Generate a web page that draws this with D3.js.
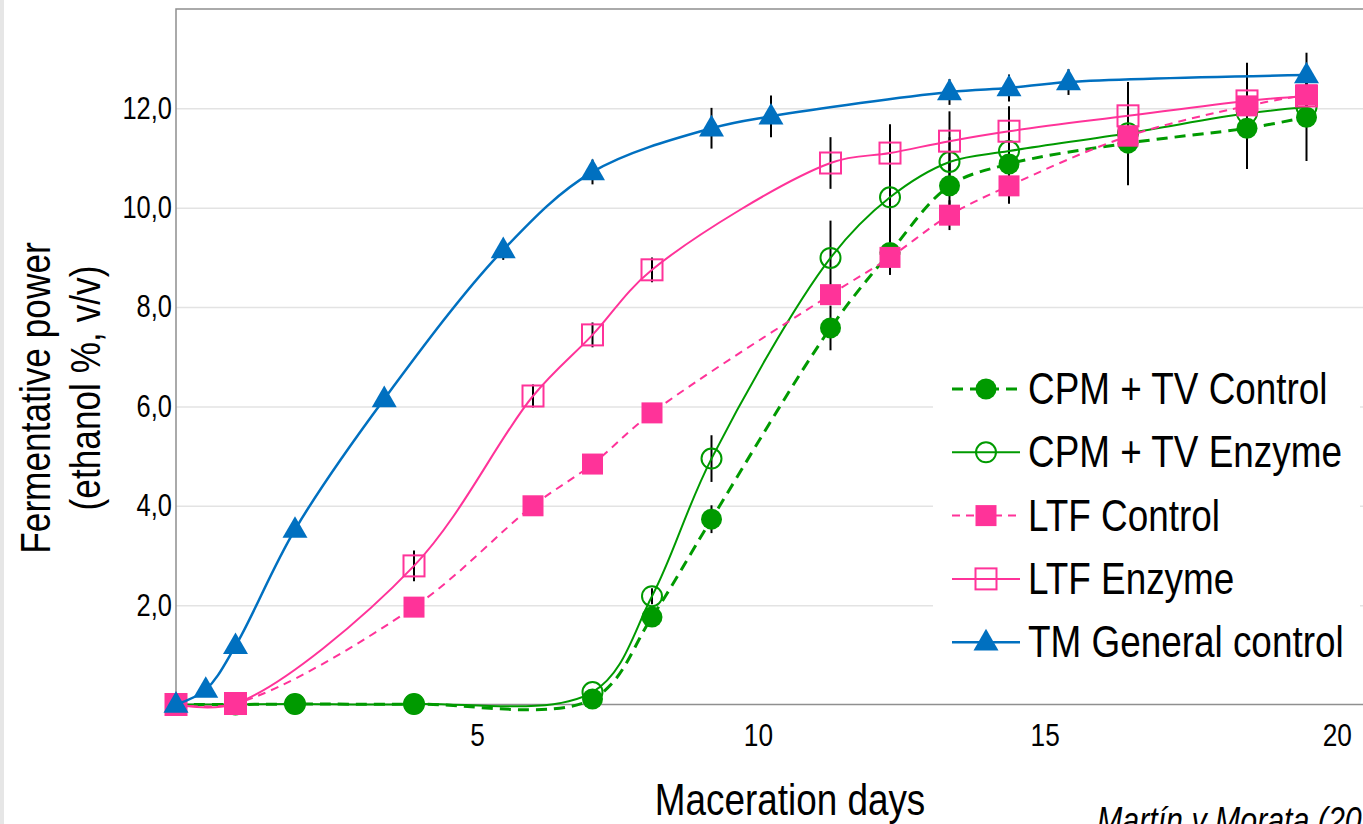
<!DOCTYPE html>
<html>
<head>
<meta charset="utf-8">
<script src="https://cdn.jsdelivr.net/npm/d3@7/dist/d3.min.js"></script>
<style>
  html, body { margin: 0; padding: 0; background: #e8e8e8; overflow: hidden; }
  svg { display: block; }
  text { font-family: "Liberation Sans", Arial, sans-serif; fill: #000; }
</style>
</head>
<body>
<svg id="chart" width="1363" height="824"></svg>
<script>
// values (ethanol %, v/v per maceration day)
var tmDays = [0, 0.5, 1, 2, 3.5, 5.5, 7, 9, 10, 13, 14, 15, 19];
var tmControl = [0, 0.3, 1.18, 3.52, 6.15, 9.15, 10.72, 11.6, 11.84, 12.33, 12.41, 12.53, 12.67];
var tmControlErr = [0, 0, 0, 0, 0, 0.2, 0.25, 0.41, 0.42, 0.26, 0.27, 0.26, 0.45];

var ltfDays = [0, 1, 4, 6, 7, 8, 11, 12, 13, 14, 16, 18, 19];
var ltfControl = [0, 0.02, 1.96, 4.0, 4.84, 5.87, 8.25, 9.0, 9.85, 10.44, 11.44, 12.05, 12.27];
var ltfControlErr = [0, 0, 0, 0, 0, 0, 0.1, 0.35, 0.3, 0.36, 0.3, 0.3, 0.3];
var ltfEnzyme = [0, 0.02, 2.79, 6.21, 7.44, 8.75, 10.9, 11.1, 11.34, 11.54, 11.85, 12.15, 12.25];
var ltfEnzymeErr = [0, 0, 0.31, 0.23, 0.25, 0.25, 0.52, 0.58, 0.6, 0.5, 0.68, 0.77, 0.3];

var cpmDays = [0, 1, 2, 4, 7, 8, 9, 11, 12, 13, 14, 16, 18, 19];
var cpmControl = [0, 0, 0.01, 0.01, 0.11, 1.76, 3.73, 7.58, 9.1, 10.44, 10.88, 11.3, 11.6, 11.82];
var cpmControlErr = [0, 0, 0, 0, 0, 0, 0.28, 0.45, 0.45, 0.5, 0.5, 0.85, 0.82, 0.88];
var cpmEnzyme = [0, 0, 0.01, 0.01, 0.25, 2.18, 4.95, 8.99, 10.21, 10.92, 11.14, 11.5, 11.9, 12.02];
var cpmEnzymeErr = [0, 0, 0, 0, 0, 0.16, 0.47, 0.75, 0.8, 0.5, 0.5, 0.3, 0.3, 0.3];

var yTicks = [2, 4, 6, 8, 10, 12];
// the day labels sit slightly off the data grid in the original
var xTickValues = [5.06, 9.78, 14.6, 19.51];
var xTickLabels = ["5", "10", "15", "20"];

var seriesNames = ["CPM + TV Control", "CPM + TV Enzyme", "LTF Control", "LTF Enzyme", "TM General control"];

var W = 1363, H = 824;
var plotLeft = 176, plotTop = 9, plotBottom = 704.5;
// the original uses a condensed face; squeeze the installed sans to match
var NARROW = 0.82;

var green = "#009a00", pink = "#ff3399", blue = "#0070c0";

var series = [
  { name: seriesNames[1], days: cpmDays, values: cpmEnzyme, errors: cpmEnzymeErr, color: green, width: 2, dash: null, shape: "circle", filled: false },
  { name: seriesNames[0], days: cpmDays, values: cpmControl, errors: cpmControlErr, color: green, width: 3, dash: "11,7", shape: "circle", filled: true },
  { name: seriesNames[3], days: ltfDays, values: ltfEnzyme, errors: ltfEnzymeErr, color: pink, width: 2, dash: null, shape: "square", filled: false },
  { name: seriesNames[2], days: ltfDays, values: ltfControl, errors: ltfControlErr, color: pink, width: 2, dash: "8,6", shape: "square", filled: true },
  { name: seriesNames[4], days: tmDays, values: tmControl, errors: tmControlErr, color: blue, width: 2.5, dash: null, shape: "triangle", filled: true }
];

var x = d3.scaleLinear().domain([0, 20]).range([plotLeft, plotLeft + 20 * 59.5]);
var y = d3.scaleLinear().domain([0, 14]).range([plotBottom, plotTop]);

var locale = d3.formatLocale({ decimal: ",", thousands: ".", grouping: [3], currency: ["", "€"] });
var yFormat = locale.format(".1f");

var svg = d3.select("#chart");

function label(parent, tx, ty, rotate, size, str) {
  return parent
    .append("text")
    .attr("transform", "translate(" + tx + "," + ty + ")" + (rotate ? " rotate(" + rotate + ")" : "") + " scale(" + NARROW + ",1)")
    .style("font-size", size + "px")
    .text(str);
}

// page card
svg.append("rect").attr("width", W).attr("height", H).attr("fill", "#e6e6e6");
svg.append("rect")
  .attr("x", 4)
  .attr("y", -14)
  .attr("width", W + 20)
  .attr("height", H + 40)
  .attr("rx", 10)
  .attr("fill", "#fff");

// grid
var grid = svg
  .append("g")
  .attr("transform", "translate(" + plotLeft + ",0)")
  .call(d3.axisLeft(y).tickValues(yTicks).tickSize(-(W - plotLeft)).tickFormat(""));
grid.select(".domain").remove();
grid.selectAll("line").attr("stroke", "#e3e3e3").attr("stroke-width", 1.5);

// frame
svg
  .append("path")
  .attr("d", "M" + W + "," + plotTop + "H" + plotLeft + "V" + plotBottom + "H" + W)
  .attr("fill", "none")
  .attr("stroke", "#8f8f8f")
  .attr("stroke-width", 1.5);

var yAxis = svg
  .append("g")
  .attr("transform", "translate(" + plotLeft + ",0)")
  .call(d3.axisLeft(y).tickValues(yTicks).tickSize(0).tickPadding(5).tickFormat(yFormat));
yAxis.select(".domain").remove();
yAxis.attr("font-family", null).attr("font-size", null);
yAxis.selectAll("text")
  .attr("transform", "scale(" + NARROW + ",1)")
  .style("font-size", "31px");

var xAxis = svg
  .append("g")
  .attr("transform", "translate(0," + plotBottom + ")")
  .call(
    d3.axisBottom(x)
      .tickValues(xTickValues)
      .tickSize(0)
      .tickPadding(19)
      .tickFormat(function(d, i) { return xTickLabels[i]; })
  );
xAxis.select(".domain").remove();
xAxis.attr("font-family", null).attr("font-size", null);
xAxis.selectAll("text")
  .attr("transform", "scale(" + NARROW + ",1)")
  .style("font-size", "32px");

// axis titles
label(svg, 790, 815, 0, 45, "Maceration days").attr("text-anchor", "middle");
label(svg, 50, 398, -90, 43, "Fermentative power").attr("text-anchor", "middle");
label(svg, 100, 388, -90, 43, "(ethanol %, v/v)").attr("text-anchor", "middle");
label(svg, 1097, 833, 0, 37, "Martín y Morata (2020)").style("font-style", "italic");

function points(s) {
  return s.days.map(function(d, i) {
    return { day: d, value: s.values[i], err: s.errors[i] };
  });
}

function drawMarker(g, s, cx, cy) {
  var fill = s.filled ? s.color : "none";
  if (s.shape === "circle") {
    g.append("circle")
      .attr("cx", cx)
      .attr("cy", cy)
      .attr("r", s.filled ? 10.5 : 10)
      .attr("fill", fill)
      .attr("stroke", s.filled ? "none" : s.color)
      .attr("stroke-width", 2);
  } else if (s.shape === "square") {
    g.append("rect")
      .attr("x", cx - 10.5)
      .attr("y", cy - 10.5)
      .attr("width", 21)
      .attr("height", 21)
      .attr("fill", fill)
      .attr("stroke", s.filled ? "none" : s.color)
      .attr("stroke-width", 2);
  } else {
    g.append("path")
      .attr("transform", "translate(" + cx + "," + (cy + 1) + ")")
      .attr("d", d3.symbol().type(d3.symbolTriangle).size(270)())
      .attr("fill", fill);
  }
}

// error bars sit behind everything
var bars = svg.append("g").attr("class", "errorbars");
series.forEach(function(s) {
  bars
    .selectAll(null)
    .data(points(s).filter(function(p) { return p.err > 0; }))
    .enter()
    .append("line")
    .attr("x1", function(p) { return x(p.day); })
    .attr("x2", function(p) { return x(p.day); })
    .attr("y1", function(p) { return y(p.value - p.err); })
    .attr("y2", function(p) { return y(p.value + p.err); })
    .attr("stroke", "#000")
    .attr("stroke-width", 2);
});

var line = d3
  .line()
  .x(function(p) { return x(p.day); })
  .y(function(p) { return y(p.value); })
  .curve(d3.curveCatmullRom.alpha(0.5));

series.forEach(function(s) {
  var g = svg.append("g");
  g.append("path")
    .attr("d", line(points(s)))
    .attr("fill", "none")
    .attr("stroke", s.color)
    .attr("stroke-width", s.width)
    .attr("stroke-dasharray", s.dash);
  points(s).forEach(function(p) {
    drawMarker(g, s, x(p.day), y(p.value));
  });
});

// legend
var legend = svg.append("g");
legend
  .append("rect")
  .attr("x", 933)
  .attr("y", 355)
  .attr("width", 427)
  .attr("height", 317)
  .attr("fill", "#fff");

seriesNames.forEach(function(name, i) {
  var s = series.filter(function(d) { return d.name === name; })[0];
  var ly = 389 + i * 63.3;
  legend
    .append("line")
    .attr("x1", 952)
    .attr("x2", 1020)
    .attr("y1", ly)
    .attr("y2", ly)
    .attr("stroke", s.color)
    .attr("stroke-width", s.width)
    .attr("stroke-dasharray", s.dash);
  drawMarker(legend, s, 986, ly);
  label(legend, 1028, ly + 15, 0, 45, name);
});
</script>
</body>
</html>
